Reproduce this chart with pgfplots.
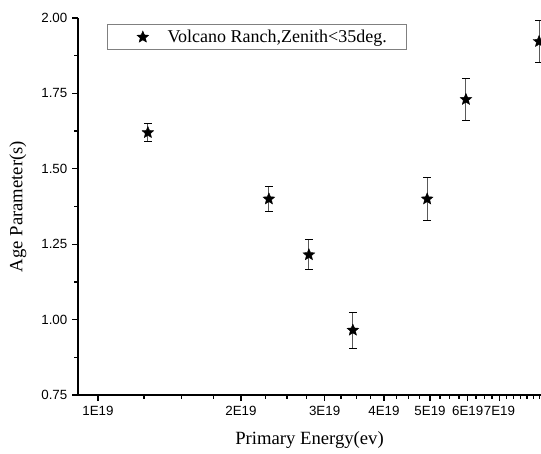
\documentclass[border=0pt]{standalone}
\usepackage{fontspec}
\setmainfont{Liberation Serif}
\setsansfont{Liberation Sans}
\usepackage{pgfplots}
\pgfplotsset{compat=1.18}

% filled five-pointed star
\pgfdeclareplotmark{fstar}{%
  \pgfpathmoveto{\pgfpointpolar{90}{\pgfplotmarksize}}%
  \pgfpathlineto{\pgfpointpolar{126}{0.45\pgfplotmarksize}}%
  \pgfpathlineto{\pgfpointpolar{162}{\pgfplotmarksize}}%
  \pgfpathlineto{\pgfpointpolar{198}{0.45\pgfplotmarksize}}%
  \pgfpathlineto{\pgfpointpolar{234}{\pgfplotmarksize}}%
  \pgfpathlineto{\pgfpointpolar{270}{0.45\pgfplotmarksize}}%
  \pgfpathlineto{\pgfpointpolar{306}{\pgfplotmarksize}}%
  \pgfpathlineto{\pgfpointpolar{342}{0.45\pgfplotmarksize}}%
  \pgfpathlineto{\pgfpointpolar{18}{\pgfplotmarksize}}%
  \pgfpathlineto{\pgfpointpolar{54}{0.45\pgfplotmarksize}}%
  \pgfpathclose\pgfusepathqfillstroke}

\begin{document}
\begin{tikzpicture}
\begin{axis}[
    at={(0pt,0pt)}, anchor=south west,
    scale only axis, width=347.25pt, height=282.75pt,
    % energy in units of 1E19 eV
    xmode=log,
    xmin=0.908, xmax=8.56,
    ymin=0.75, ymax=2.0,
    axis lines=left,
    axis line style={-, black, line width=0.9pt},
    tick align=outside,
    major tick length=4.5pt, minor tick length=2.7pt,
    every tick/.append style={black, line width=1pt},
    xtick={1,2,3,4,5,6,7},
    xticklabels={1E19,2E19,3E19,4E19,5E19,6E19,7E19},
    minor xtick={1.25,1.5,1.75,2.25,2.5,2.75,3.25,3.5,3.75,
      4.25,4.5,4.75,5.25,5.5,5.75,6.25,6.5,6.75,7.25,7.5,7.75,8,8.25,8.5},
    ytick={0.75,1.0,1.25,1.5,1.75,2.0},
    minor ytick={0.875,1.125,1.375,1.625,1.875},
    yticklabel style={/pgf/number format/fixed, /pgf/number format/fixed zerofill,
      /pgf/number format/precision=2},
    /pgf/number format/assume math mode=true,
    tick label style={font=\sffamily\fontsize{10}{12}\selectfont},
    xlabel={Primary Energy(ev)},
    ylabel={Age Parameter(s)},
    label style={font=\fontsize{14}{16}\selectfont},
    x label style={at={(axis description cs:0.5,-0.12)}, anchor=center},
    y label style={at={(axis description cs:-0.13,0.5)}, anchor=center},
    clip=false,
    legend style={at={(rel axis cs:0.0626,0.984)}, anchor=north west,
      draw=gray, line width=0.8pt, inner xsep=6pt, inner ysep=2pt,
      font=\fontsize{13.5}{15}\selectfont},
    legend image code/.code={%
      \path[draw=none] (0cm,0cm) -- (1.3cm,0cm);
      \pgftransformshift{\pgfpoint{0.72cm}{0cm}}%
      \pgfuseplotmark{fstar}},
]
\addplot[only marks, mark=fstar, mark size=4.6pt, black, line width=0.3pt,
  error bars/.cd, y dir=both, y explicit,
  error bar style={gray!70!black, line width=0.8pt},
  error mark options={rotate=90, mark size=3pt, black, line width=0.6pt}]
  coordinates {
  (1.274,1.62) +- (0,0.03)
  (2.29,1.40) +- (0,0.04)
  (2.78,1.215) +- (0,0.05)
  (3.44,0.965) +- (0,0.06)
  (4.93,1.40) +- (0,0.07)
  (5.95,1.73) +- (0,0.07)
  (8.48,1.922) +- (0,0.07)
  };
\addlegendentry{Volcano Ranch,Zenith<35deg.\rule{7pt}{0pt}}
\end{axis}
% picture is cut at the right edge of the axis, like the reference
\pgfresetboundingbox
\path (-58.5pt,-43.5pt) rectangle (347.25pt,296.25pt);
\end{tikzpicture}
\end{document}
